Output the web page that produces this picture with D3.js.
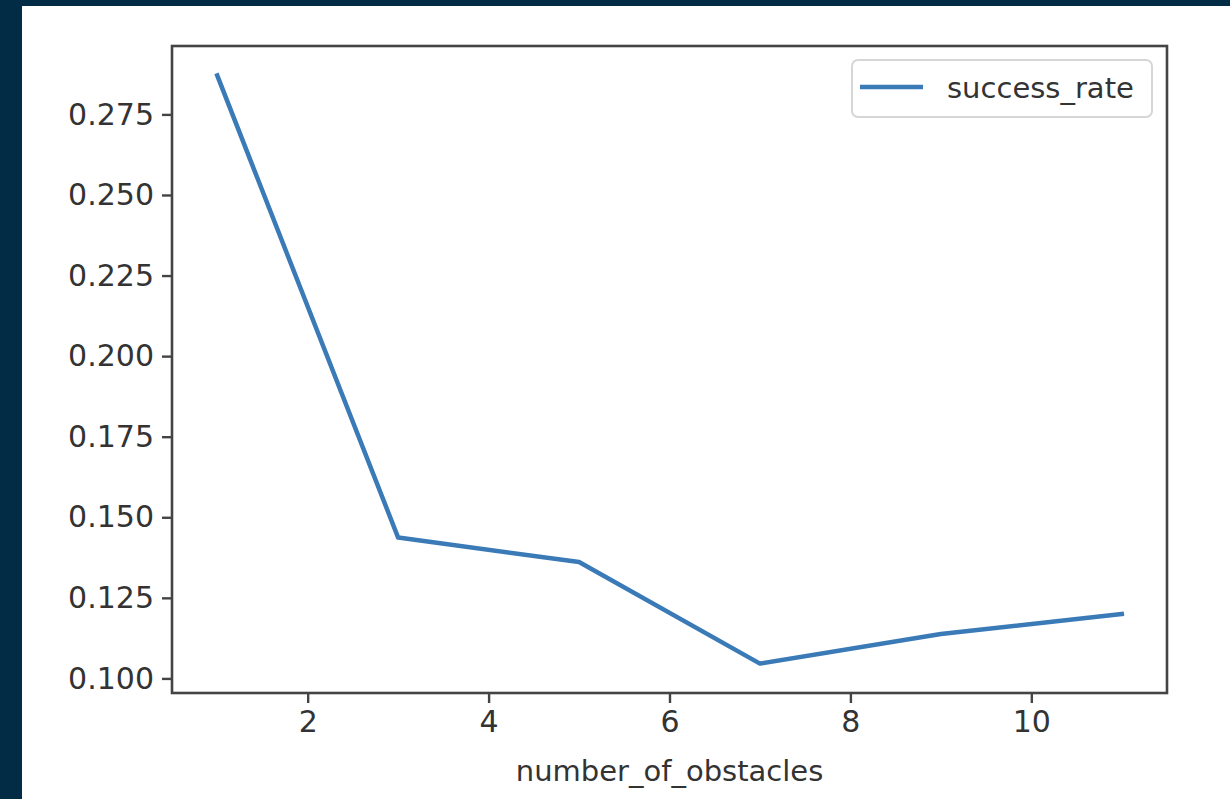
<!DOCTYPE html>
<html lang="en">
<head>
  <meta charset="UTF-8">
  <title>success_rate</title>
  <script src="https://d3js.org/d3.v7.min.js"></script>
  <style>
    body { margin: 0; background: #022b46; }
    text { font-family: "DejaVu Sans", sans-serif; fill: #333; }
  </style>
</head>
<body>
  <div id="chart"></div>

  <script>
    // data
    const obstacles = [1, 3, 5, 7, 9, 11];
    const successRate = [0.2871, 0.1437, 0.1361, 0.1046, 0.1138, 0.1200];
    const xTicks = [2, 4, 6, 8, 10];
    const yTicks = [0.100, 0.125, 0.150, 0.175, 0.200, 0.225, 0.250, 0.275];

    const W = 1230, H = 799;
    const margin = {top: 46, right: 63, bottom: 106, left: 172},
          width = W - margin.left - margin.right,
          height = H - margin.top - margin.bottom;

    const root = d3.select("#chart")
                   .append("svg")
                   .attr("width", W)
                   .attr("height", H);

    root.append("rect").attr("width", W).attr("height", H).attr("fill", "#022b46");
    root.append("rect").attr("x", 22).attr("y", 6)
        .attr("width", W - 22).attr("height", H - 6).attr("fill", "#fff");

    const svg = root.append("g")
                    .attr("transform", `translate(${margin.left},${margin.top})`);

    const data = obstacles.map((d, i) => ({x: d, y: successRate[i]}));

    // matplotlib-style 5% margins
    const xPad = (d3.max(obstacles) - d3.min(obstacles)) * 0.05;
    const yPad = (d3.max(successRate) - d3.min(successRate)) * 0.05;

    const x = d3.scaleLinear()
                .domain([d3.min(obstacles) - xPad, d3.max(obstacles) + xPad])
                .range([0, width]);
    const y = d3.scaleLinear()
                .domain([d3.min(successRate) - yPad, d3.max(successRate) + yPad])
                .range([height, 0]);

    const xAxis = svg.append("g")
       .attr("transform", `translate(0, ${height})`)
       .call(d3.axisBottom(x).tickValues(xTicks).tickSize(10).tickPadding(8).tickSizeOuter(0));

    const yAxis = svg.append("g")
       .call(d3.axisLeft(y).tickValues(yTicks).tickFormat(d3.format(".3f"))
                .tickSize(10).tickPadding(8).tickSizeOuter(0));

    [xAxis, yAxis].forEach(g => {
      g.select(".domain").remove();
      g.selectAll(".tick line").attr("stroke", "#444").attr("stroke-width", 2.4);
      g.selectAll(".tick text").style("font-size", "30px").attr("fill", "#333");
    });

    // frame
    svg.append("rect")
       .attr("width", width)
       .attr("height", height)
       .attr("fill", "none")
       .attr("stroke", "#444")
       .attr("stroke-width", 2.6);

    const line = d3.line().x(d => x(d.x)).y(d => y(d.y));
    svg.append("path")
       .datum(data)
       .attr("fill", "none")
       .attr("stroke", "#3a7ab7")
       .attr("stroke-width", 4.5)
       .attr("stroke-linejoin", "round")
       .attr("stroke-linecap", "square")
       .attr("d", line);

    // x label
    svg.append("text")
       .attr("x", width / 2)
       .attr("y", height + 88)
       .attr("text-anchor", "middle")
       .style("font-size", "29px")
       .text("number_of_obstacles");

    // legend
    const lg = svg.append("g").attr("transform", `translate(${width - 315}, 14)`);
    lg.append("rect")
      .attr("width", 300).attr("height", 57)
      .attr("rx", 6)
      .attr("fill", "#fff")
      .attr("stroke", "#d6d6d6")
      .attr("stroke-width", 2);
    lg.append("line")
      .attr("x1", 8).attr("x2", 71).attr("y1", 27).attr("y2", 27)
      .attr("stroke", "#3a7ab7").attr("stroke-width", 4.5);
    lg.append("text")
      .attr("x", 95).attr("y", 38)
      .style("font-size", "29px")
      .text("success_rate");
  </script>
</body>
</html>
